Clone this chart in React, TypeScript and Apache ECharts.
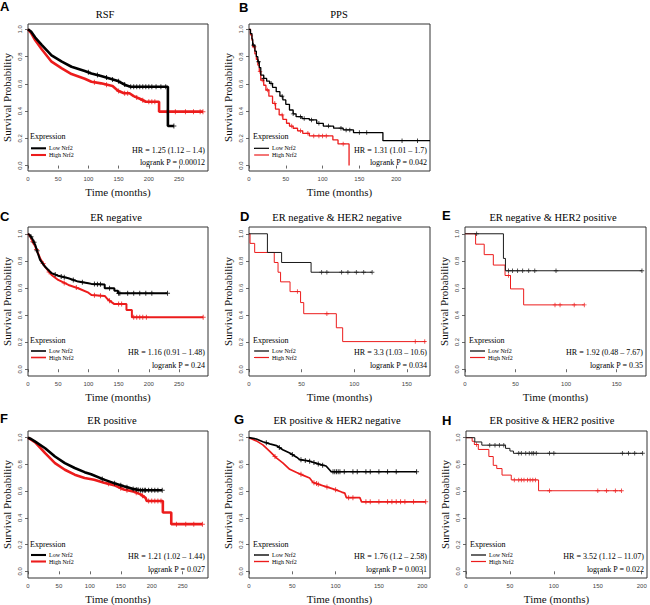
import React, { useEffect, useRef } from "react";
import * as echarts from "echarts";

type Pt = [number, number];

// ---------- Data (time in months, survival probability) ----------
const rsfLow: Pt[] = [[0, 1], [5, 0.985], [12, 0.94], [23, 0.885], [39, 0.81], [56, 0.763], [72, 0.726], [94, 0.694], [105, 0.677], [121, 0.658], [149, 0.621], [162, 0.59], [170, 0.579], [231.6, 0.579], [231.6, 0.291], [241.5, 0.291]];
const rsfHigh: Pt[] = [[0, 1], [5, 0.975], [12, 0.92], [23, 0.853], [39, 0.763], [56, 0.714], [72, 0.672], [94, 0.638], [105, 0.616], [121, 0.604], [140, 0.584], [149, 0.55], [159, 0.531], [168, 0.531], [175, 0.51], [187, 0.487], [195, 0.469], [217, 0.469], [217, 0.396], [289.6, 0.396]];
const rsfLowCens = [100, 115, 130, 140, 150, 160, 170, 175, 180, 185, 190, 195, 200, 205, 212, 220, 228, 241.5];
const rsfHighCens = [110, 130, 150, 160, 165, 180, 190, 200, 205, 210, 230.6, 244, 260.7, 274, 285, 289.6];

const ppsLow: Pt[] = [[0, 1], [2, 0.97], [4, 0.93], [5, 0.885], [8, 0.84], [10, 0.8], [12, 0.763], [14, 0.72], [16, 0.665], [20, 0.64], [24, 0.62], [28, 0.604], [32, 0.575], [37, 0.543], [42, 0.51], [46, 0.482], [50, 0.45], [55, 0.408], [60, 0.38], [64, 0.359], [72, 0.345], [82, 0.335], [92, 0.31], [101, 0.29], [115, 0.275], [128, 0.262], [142, 0.242], [182, 0.183], [246, 0.183]];
const ppsHigh: Pt[] = [[0, 1], [2, 0.96], [4, 0.92], [5, 0.873], [8, 0.82], [10, 0.78], [12, 0.738], [14, 0.69], [16, 0.628], [20, 0.59], [23, 0.555], [27, 0.51], [32, 0.457], [36, 0.415], [41, 0.372], [46, 0.34], [51, 0.311], [55, 0.29], [60, 0.274], [66, 0.255], [73, 0.237], [82, 0.218], [114, 0.188], [121, 0.159], [136, 0]];
const ppsLowCens = [6, 13, 20, 30, 45, 60, 70, 75, 85, 95, 108, 125, 132, 137, 150, 160, 208, 229];
const ppsHighCens = [7, 15, 18, 25, 35, 45, 58, 70, 80, 88, 95, 100, 105, 128];

const erNegLow: Pt[] = [[0, 1], [3, 0.99], [6.6, 0.968], [12, 0.918], [16, 0.86], [20, 0.807], [28, 0.758], [39, 0.709], [50, 0.69], [67, 0.672], [83, 0.647], [100, 0.635], [105, 0.63], [127, 0.625], [127, 0.598], [143, 0.598], [143, 0.58], [149, 0.58], [149, 0.56], [231, 0.56]];
const erNegHigh: Pt[] = [[0, 1], [3, 0.985], [12, 0.906], [20, 0.82], [28, 0.758], [39, 0.696], [50, 0.659], [67, 0.622], [83, 0.598], [100, 0.565], [105, 0.548], [127, 0.541], [132, 0.516], [143, 0.481], [163, 0.481], [163, 0.437], [172, 0.437], [172, 0.383], [290, 0.383]];
const erNegLowCens = [5, 10, 15, 45, 55, 60, 75, 90, 110, 115, 120, 135, 150, 152, 165, 175, 185, 195, 205, 231];
const erNegHighCens = [8, 14, 25, 35, 60, 80, 110, 120, 135, 150, 155, 175, 180, 185, 190, 196, 290];

const dLow: Pt[] = [[0, 1], [17.5, 0.862], [31, 0.788], [59, 0.716], [117, 0.716]];
const dHigh: Pt[] = [[0, 1], [1, 0.929], [5.4, 0.862], [24, 0.788], [27.6, 0.716], [30, 0.645], [39, 0.573], [49, 0.492], [52, 0.41], [83, 0.306], [89, 0.204], [168, 0.204]];
const dLowCens = [69, 74, 88, 94, 102, 109, 117];
const dHighCens = [46, 74, 158, 167];

const eLow: Pt[] = [[0, 1], [38, 0.818], [40, 0.727], [175, 0.727]];
const eHigh: Pt[] = [[0, 1], [10.5, 0.923], [19, 0.846], [28, 0.769], [39.6, 0.692], [45, 0.593], [58, 0.475], [118, 0.475]];
const eLowCens = [11.5, 43, 47, 52, 57, 63, 69, 90, 175];
const eHighCens = [43, 89, 94, 108, 118];

const erPosLow: Pt[] = [[0, 1], [5, 0.99], [11.7, 0.97], [27.7, 0.921], [43.6, 0.859], [59.6, 0.81], [75.5, 0.773], [91.5, 0.742], [102, 0.726], [123, 0.686], [139, 0.66], [155, 0.637], [169, 0.617], [182, 0.607], [217, 0.607]];
const erPosHigh: Pt[] = [[0, 1], [5, 0.985], [11.7, 0.965], [27.7, 0.884], [43.6, 0.81], [59.6, 0.76], [75.5, 0.723], [91.5, 0.699], [107, 0.685], [123, 0.662], [139, 0.645], [155, 0.612], [170, 0.598], [182, 0.576], [190, 0.55], [192, 0.526], [218, 0.526], [218, 0.44], [231.6, 0.44], [231.6, 0.353], [282, 0.353]];
const erPosLowCens = [120, 140, 150, 160, 170, 175, 178, 182, 185, 188, 190, 195, 200, 205, 210, 217];
const erPosHighCens = [130, 150, 160, 175, 185, 195, 200, 205, 210, 215, 240, 255, 268, 282];

const gLow: Pt[] = [[0, 1], [8.5, 0.99], [16, 0.97], [24, 0.954], [31.6, 0.941], [39, 0.91], [47, 0.885], [55, 0.854], [58.6, 0.836], [70, 0.824], [81.7, 0.8], [89, 0.788], [95, 0.745], [193.5, 0.745]];
const gHigh: Pt[] = [[0, 1], [8.5, 0.976], [16, 0.946], [24, 0.898], [31.6, 0.849], [39, 0.812], [47, 0.763], [55, 0.739], [62, 0.72], [70, 0.698], [74, 0.665], [85, 0.641], [97, 0.617], [107, 0.593], [110.6, 0.585], [112.5, 0.551], [128, 0.551], [130, 0.52], [204, 0.52]];
const gLowCens = [20, 35, 50, 60, 65, 70, 75, 80, 85, 97, 99, 101, 103, 105, 110, 120, 125, 135, 140, 150, 160, 170, 193.5];
const gHighCens = [30, 60, 75, 78, 80, 90, 100, 115, 120, 135, 140, 150, 160, 165, 170, 175, 180, 190, 204];

const hLow: Pt[] = [[0, 1], [10, 0.968], [18, 0.944], [45, 0.92], [50, 0.9], [54, 0.883], [201, 0.883]];
const hHigh: Pt[] = [[0, 1], [7, 0.973], [9.5, 0.949], [14, 0.912], [26, 0.859], [31, 0.793], [35, 0.769], [41, 0.72], [51.5, 0.684], [82.6, 0.603], [177, 0.603]];
const hLowCens = [27, 33, 38, 43, 60, 63, 68, 72, 75, 77, 80, 95, 100, 178, 185, 192, 201];
const hHighCens = [12, 55, 60, 63, 66, 70, 73, 76, 79, 95, 150, 160, 170, 177];

const titles = ["RSF", "PPS", "ER negative", "ER negative & HER2 negative", "ER negative & HER2 positive", "ER positive", "ER positive & HER2 negative", "ER positive & HER2 positive"];
const letters = ["A", "B", "C", "D", "E", "F", "G", "H"];
const hrTexts = ["HR = 1.25 (1.12 \u2013 1.4)", "HR = 1.31 (1.01 \u2013 1.7)", "HR = 1.16 (0.91 \u2013 1.48)", "HR = 3.3 (1.03 \u2013 10.6)", "HR = 1.92 (0.48 \u2013 7.67)", "HR = 1.21 (1.02 \u2013 1.44)", "HR = 1.76 (1.2 \u2013 2.58)", "HR = 3.52 (1.12 \u2013 11.07)"];
const pTexts = ["logrank P = 0.00012", "logrank P = 0.042", "logrank P = 0.24", "logrank P = 0.034", "logrank P = 0.35", "logrank P = 0.027", "logrank P = 0.0031", "logrank P = 0.022"];
const yTicks = [0, 0.2, 0.4, 0.6, 0.8, 1.0];
const xTicks250 = [0, 50, 100, 150, 200, 250];
const xTicks200 = [0, 50, 100, 150, 200];
const xTicks150 = [0, 50, 100, 150];
const xMaxes = [298, 246, 298, 172, 179, 291, 209, 206];
const legendLow = "Low Nrf2";
const legendHigh = "High Nrf2";
const legendTitle = "Expression";

// ---------- Layout ----------
const layout = [
  { left: 26, top: 24, width: 182, height: 147, row: 0, letterX: 0, letterY: 6, titleX: 105, titleY: 14 },
  { left: 249, top: 24, width: 181, height: 147, row: 0, letterX: 239, letterY: 7.5, titleX: 339, titleY: 14 },
  { left: 26, top: 227, width: 182, height: 149, row: 1, letterX: 0, letterY: 216, titleX: 116, titleY: 217.5 },
  { left: 249, top: 227, width: 181, height: 149, row: 1, letterX: 240, letterY: 216, titleX: 337, titleY: 217.5 },
  { left: 465, top: 227, width: 181, height: 149, row: 1, letterX: 442, letterY: 215.5, titleX: 553, titleY: 217.5 },
  { left: 26, top: 431, width: 182, height: 149, row: 2, letterX: 0, letterY: 418, titleX: 112, titleY: 420.5 },
  { left: 249, top: 431, width: 181, height: 149, row: 2, letterX: 234, letterY: 419.5, titleX: 337, titleY: 420.5 },
  { left: 466, top: 431, width: 181, height: 149, row: 2, letterX: 442, letterY: 420, titleX: 552, titleY: 420.5 },
];

const BLACK = "#000000";
const RED = "#ec1c1c";
const SERIF = "'Liberation Serif', 'Times New Roman', serif";
const SANS = "'Liberation Sans', Arial, sans-serif";
const PLUS = "path://M4,0h2v4h4v2h-4v4h-2v-4h-4v-2h4z";

function sAt(curve: Pt[], t: number, step: boolean): number {
  let v = curve[0][1];
  for (let i = 0; i < curve.length; i++) {
    const [ti, si] = curve[i];
    if (ti <= t) {
      v = si;
      continue;
    }
    if (!step && i > 0) {
      const [tp, sp] = curve[i - 1];
      v = sp + ((si - sp) * (t - tp)) / (ti - tp);
    }
    break;
  }
  return v;
}

const panels = [
  { low: rsfLow, high: rsfHigh, lowC: rsfLowCens, highC: rsfHighCens, step: false, lw: 2.6, xTicks: xTicks250 },
  { low: ppsLow, high: ppsHigh, lowC: ppsLowCens, highC: ppsHighCens, step: true, lw: 1.3, xTicks: xTicks200 },
  { low: erNegLow, high: erNegHigh, lowC: erNegLowCens, highC: erNegHighCens, step: false, lw: 2.0, xTicks: xTicks250 },
  { low: dLow, high: dHigh, lowC: dLowCens, highC: dHighCens, step: true, lw: 1, xTicks: xTicks150 },
  { low: eLow, high: eHigh, lowC: eLowCens, highC: eHighCens, step: true, lw: 1, xTicks: xTicks150 },
  { low: erPosLow, high: erPosHigh, lowC: erPosLowCens, highC: erPosHighCens, step: false, lw: 2.6, xTicks: xTicks250 },
  { low: gLow, high: gHigh, lowC: gLowCens, highC: gHighCens, step: false, lw: 1.7, xTicks: xTicks200 },
  { low: hLow, high: hHigh, lowC: hLowCens, highC: hHighCens, step: true, lw: 1, xTicks: xTicks200 },
];

function txt(x: number, y: number, text: string, font: string, size: number, align: string, weight = "normal") {
  return {
    type: "text", x, y, silent: true,
    style: { text, fontFamily: font, fontSize: size, fontWeight: weight, fill: "#000", textAlign: align, textVerticalAlign: "middle", align, verticalAlign: "middle" },
  };
}

function buildOption() {
  const grid: any[] = [];
  const xAxis: any[] = [];
  const yAxis: any[] = [];
  const series: any[] = [];
  const graphic: any[] = [];

  panels.forEach((p, i) => {
    const L = layout[i];
    const yMin = L.row === 0 ? -0.04 : -0.05;
    const yMax = L.row === 0 ? 1.04 : 1.05;
    grid.push({ left: L.left, top: L.top, width: L.width, height: L.height, show: true, borderColor: "#333", borderWidth: 1, backgroundColor: "transparent" });
    xAxis.push({
      gridIndex: i, type: "value", min: 0, max: xMaxes[i],
      axisLine: { show: false }, splitLine: { show: false },
      axisTick: { show: true, length: 3, customValues: p.xTicks, lineStyle: { color: "#444", width: 0.8 } },
      axisLabel: { customValues: p.xTicks, fontSize: 6, color: "#444", margin: 5, fontFamily: SANS, formatter: (v: number) => String(v), showMinLabel: true, showMaxLabel: true },
      name: "Time (months)", nameLocation: "middle", nameGap: 15,
      nameTextStyle: { fontFamily: SERIF, fontSize: 11, color: "#111" },
    });
    yAxis.push({
      gridIndex: i, type: "value", min: yMin, max: yMax,
      axisLine: { show: false }, splitLine: { show: false },
      axisTick: { show: true, length: 3, customValues: yTicks, lineStyle: { color: "#444", width: 0.8 } },
      axisLabel: { customValues: yTicks, rotate: 90, fontSize: 6, color: "#444", margin: 5, fontFamily: SANS, formatter: (v: number) => v.toFixed(1) },
      name: "Survival Probability", nameLocation: "middle", nameGap: 16,
      nameTextStyle: { fontFamily: SERIF, fontSize: 11, color: "#111" },
    });
    const cs = p.lw >= 1.5 ? 5 : 4.5;
    const curves = [
      { data: p.high, cens: p.highC, color: RED, z: 3 },
      { data: p.low, cens: p.lowC, color: p.lw < 1.2 ? "#1a1a1a" : BLACK, z: 5 },
    ];
    curves.forEach((c) => {
      series.push({
        type: "line", xAxisIndex: i, yAxisIndex: i, data: c.data,
        step: p.step ? "end" : false, symbol: "none", showSymbol: false, silent: true, z: c.z,
        lineStyle: { color: c.color, width: p.lw },
      });
      series.push({
        type: "scatter", xAxisIndex: i, yAxisIndex: i, silent: true, z: c.z + 1,
        data: c.cens.map((t) => [t, sAt(c.data, t, p.step)]),
        symbol: PLUS, symbolSize: cs, itemStyle: { color: c.color },
      });
    });

    const bottom = L.top + L.height;
    const right = L.left + L.width;
    const off = L.row === 0
      ? { ex: -34.5, lo: -22.7, hi: -16, hr: -20.5, p: -8.7 }
      : { ex: -35.3, lo: -25, hi: -18.5, hr: -24, p: -10.5 };
    const lw = Math.max(1.2, p.lw * 0.8);
    graphic.push(
      txt(L.letterX, L.letterY, letters[i], SANS, 13, "left", "bold"),
      txt(L.titleX, L.titleY, titles[i], SERIF, 10.5, "center"),
      txt(L.left + 4, bottom + off.ex, legendTitle, SERIF, 8, "left"),
      { type: "line", silent: true, shape: { x1: L.left + 5, y1: bottom + off.lo, x2: L.left + 20, y2: bottom + off.lo }, style: { stroke: BLACK, lineWidth: lw } },
      { type: "line", silent: true, shape: { x1: L.left + 5, y1: bottom + off.hi, x2: L.left + 20, y2: bottom + off.hi }, style: { stroke: RED, lineWidth: lw } },
      txt(L.left + 23, bottom + off.lo, legendLow, SERIF, 6, "left"),
      txt(L.left + 23, bottom + off.hi, legendHigh, SERIF, 6, "left"),
      txt(right - 3, bottom + off.hr, hrTexts[i], SERIF, 8, "right"),
      txt(right - 3, bottom + off.p, pTexts[i], SERIF, 8, "right"),
    );
  });

  return { animation: false, backgroundColor: "#ffffff", grid, xAxis, yAxis, series, graphic };
}

export default function App() {
  const ref = useRef<HTMLDivElement>(null);
  useEffect(() => {
    if (!ref.current) return;
    const chart = echarts.init(ref.current, undefined, { renderer: "svg" });
    chart.setOption(buildOption() as any);
    return () => chart.dispose();
  }, []);
  return <div ref={ref} style={{ position: "absolute", left: 0, top: 0, width: 650, height: 605, background: "#fff" }} />;
}
